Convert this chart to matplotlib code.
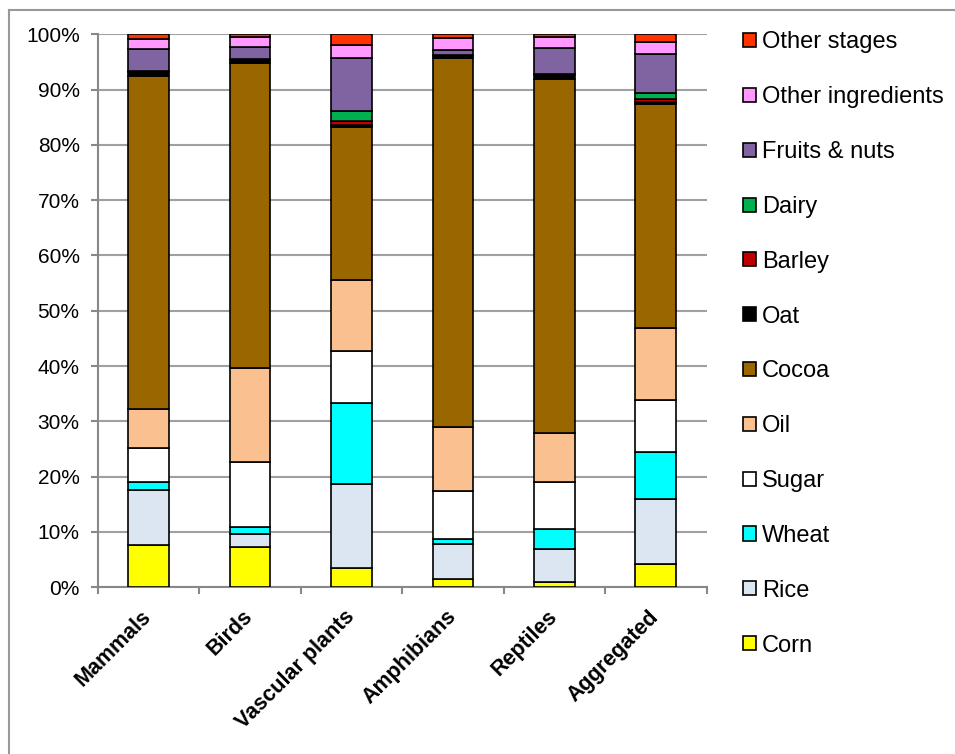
import matplotlib
matplotlib.use("Agg")
import matplotlib.pyplot as plt
from matplotlib.lines import Line2D
import numpy as np

plt.rcParams['font.family'] = ['Liberation Sans', 'DejaVu Sans']

# groups along the x axis
groups = ["Mammals", "Birds", "Vascular plants", "Amphibians", "Reptiles", "Aggregated"]

# share of impact per ingredient / stage (%), bottom to top
corn = [7.7, 7.2, 3.5, 1.5, 1.0, 4.2]
rice = [9.9, 2.5, 15.2, 6.4, 6.0, 11.7]
wheat = [1.4, 1.2, 14.6, 0.8, 3.5, 8.6]
sugar = [6.1, 11.8, 9.5, 8.7, 8.5, 9.3]
oil = [7.1, 17.0, 12.8, 11.6, 8.9, 13.0]
cocoa = [60.3, 55.2, 27.6, 66.7, 64.1, 40.6]
oat = [0.7, 0.4, 0.4, 0.4, 0.7, 0.3]
barley = [0.05, 0.05, 0.8, 0.05, 0.05, 0.6]
dairy = [0.1, 0.2, 1.7, 0.05, 0.05, 1.1]
fruits = [4.0, 2.1, 9.7, 0.9, 4.7, 7.1]
other_ingr = [1.8, 1.9, 2.3, 2.2, 2.0, 2.1]
other_stages = [0.85, 0.45, 1.9, 0.7, 0.5, 1.4]

series = [
    ("Corn", corn, "#FFFF00"),
    ("Rice", rice, "#DCE6F2"),
    ("Wheat", wheat, "#00FFFF"),
    ("Sugar", sugar, "#FFFFFF"),
    ("Oil", oil, "#FAC090"),
    ("Cocoa", cocoa, "#996600"),
    ("Oat", oat, "#000000"),
    ("Barley", barley, "#C00000"),
    ("Dairy", dairy, "#00B050"),
    ("Fruits & nuts", fruits, "#8064A2"),
    ("Other ingredients", other_ingr, "#FF99FF"),
    ("Other stages", other_stages, "#FF3300"),
]

fig = plt.figure(figsize=(9.55, 7.54), dpi=100)
ax = fig.add_axes([97.7 / 955, 1 - 587.3 / 754, 608.8 / 955, 553 / 754])

x = np.arange(len(groups))
bottom = np.zeros(len(groups))
handles = []
for name, vals, col in series:
    b = ax.bar(x, vals, width=0.4, bottom=bottom, color=col,
               edgecolor="black", linewidth=1.2, label=name, zorder=3)
    bottom += np.array(vals)
    handles.append(b)

ax.set_xlim(-0.5, len(groups) - 0.5)
ax.set_ylim(0, 100)
ax.set_yticks(np.arange(0, 101, 10))
ax.set_yticklabels([f"{v}%" for v in range(0, 101, 10)])
ax.yaxis.grid(True, color="#A0A0A0", linewidth=1.5, zorder=0)
ax.set_axisbelow(True)

# labels at bar centres, tick marks between categories
ax.set_xticks(x)
ax.set_xticklabels(groups, rotation=45, ha="right", va="center",
                   rotation_mode="anchor", fontweight="bold", fontsize=15.5)
ax.set_xticks(np.arange(-0.5, len(groups), 1), minor=True)
ax.tick_params(axis="x", which="major", length=0, pad=19)
ax.tick_params(axis="x", which="minor", length=5, color="#888888", width=1.5)
ax.tick_params(axis="y", length=5, color="#888888", width=1.5, labelsize=15, pad=8)

for s in ["top", "right"]:
    ax.spines[s].set_visible(False)
for s in ["left", "bottom"]:
    ax.spines[s].set_color("#888888")
    ax.spines[s].set_linewidth(1.5)

leg = fig.legend(handles[::-1], [s[0] for s in series][::-1],
                 loc="center left", bbox_to_anchor=(742.7 / 955, 1 - 344 / 754),
                 frameon=False, fontsize=17, handlelength=0.56, handleheight=0.54,
                 handletextpad=0.25, labelspacing=1.39, borderpad=0, borderaxespad=0)

# chart border on left and top
fig.add_artist(Line2D([8.5 / 955, 8.5 / 955], [0, 1 - 10 / 754], transform=fig.transFigure,
                      color="#999999", linewidth=1.5))
fig.add_artist(Line2D([8.5 / 955, 1], [1 - 10 / 754, 1 - 10 / 754], transform=fig.transFigure,
                      color="#999999", linewidth=1.5))

fig.savefig("out.png", dpi=100)
